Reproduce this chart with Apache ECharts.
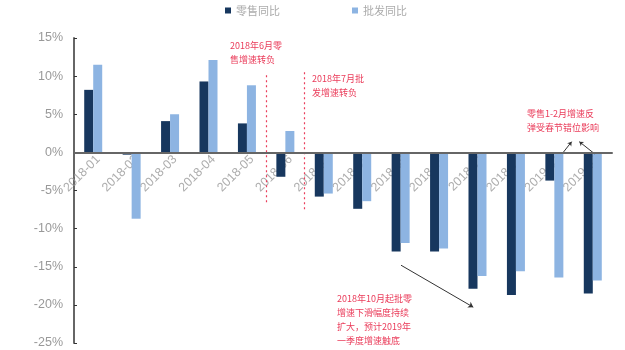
<!DOCTYPE html>
<html><head><meta charset="utf-8">
<script src="https://cdn.jsdelivr.net/npm/echarts@6/dist/echarts.min.js"></script>
<style>html,body{margin:0;padding:0;background:#fff}#c{width:625px;height:350px}</style>
</head><body><div id="c"></div>
<script>
const categories = ['2018-01','2018-02','2018-03','2018-04','2018-05','2018-06','2018-07','2018-08','2018-09','2018-10','2018-11','2018-12','2019-01','2019-02'];
const retailYoY = [8.2,-0.3,4.1,9.3,3.8,-3.2,-5.8,-7.4,-13.0,-13.0,-17.9,-18.7,-3.7,-18.5];
const wholesaleYoY = [11.5,-8.7,5.0,12.1,8.8,2.8,-5.4,-6.4,-11.9,-12.6,-16.2,-15.6,-16.4,-16.8];
const yTicks = {min:-25, max:15, interval:5};
const seriesNames = ['零售同比','批发同比'];

const red = '#ea3c5a';
const cjk = '"Noto Sans CJK SC", sans-serif';
const chart = echarts.init(document.getElementById('c'));
const noteStyle = {fill: red, font: '9px ' + cjk, lineHeight: 14};
chart.setOption({
  animation:false,
  legend:{data:seriesNames, top:0, left:220, itemWidth:6, itemHeight:6, itemGap:72, icon:'rect',
    textStyle:{color:'#aaa', fontSize:11, fontFamily:cjk}},
  grid:{left:74, right:13, top:38, bottom:7, containLabel:false, outerBoundsMode:'none'},
  xAxis:[{type:'category', data:categories, position:'bottom',
    axisLine:{onZero:true, lineStyle:{color:'#666', width:2}},
    axisTick:{show:false},
    axisLabel:{show:false},
    z:10},
   {type:'value', min:0, max:categories.length, show:false, position:'top'}],
  yAxis:{type:'value', min:yTicks.min, max:yTicks.max, interval:yTicks.interval,
    axisLine:{show:true, lineStyle:{color:'#666', width:2}},
    axisTick:{show:true, inside:true, length:3, lineStyle:{color:'#333'}},
    splitLine:{show:false},
    axisLabel:{formatter:'{value}%', color:'#999', fontSize:12.5, margin:11, fontFamily:'Arial, sans-serif'}},
  series:[
    {type:'scatter', xAxisIndex:0, symbolSize:0, silent:true, z:1,
      data:categories.map(c => [c, 0]),
      label:{show:true, formatter:p => p.value[0], position:[5,5], align:'right', verticalAlign:'middle',
        rotate:45, color:'#999', fontSize:12.5, fontFamily:'Arial, sans-serif'}},
    {name:seriesNames[0], type:'bar', z:3, data:retailYoY, barWidth:9, barGap:'0%', itemStyle:{color:'#17375e'}},
    {name:seriesNames[1], type:'bar', z:3, data:wholesaleYoY, barWidth:9, barGap:'0%', itemStyle:{color:'#8db4e2'}},
    {type:'line', xAxisIndex:1, data:[], silent:true,
      markLine:{symbol:['none','none'], silent:true, label:{show:false},
        lineStyle:{color:red, type:[2,3], width:1.2},
        data:[
          [{coord:[5,10.1]},{coord:[5,-6.9]}],
          [{coord:[6,10.5]},{coord:[6,-7.6]}],
          [{coord:[8.51,-14.8], symbol:'none'},{coord:[10.39,-20.3], symbol:'arrow', symbolSize:5, lineStyle:{color:'#333', type:'solid', width:1}}],
          [{coord:[12.7,-0.2], symbol:'none'},{coord:[12.95,1.4], symbol:'arrow', symbolSize:4, lineStyle:{color:'#333', type:'solid', width:1}}],
          [{coord:[13.55,-0.2], symbol:'none'},{coord:[13.15,1.4], symbol:'arrow', symbolSize:4, lineStyle:{color:'#333', type:'solid', width:1}}]
        ]}}
  ],
  graphic:[
    {type:'text', left:230, top:39, style:Object.assign({text:'2018年6月零\n售增速转负', align:'center'}, noteStyle)},
    {type:'text', left:312, top:72, style:Object.assign({text:'2018年7月批\n发增速转负'}, noteStyle)},
    {type:'text', left:527, top:107, style:Object.assign({text:'零售1-2月增速反\n弹受春节错位影响'}, noteStyle)},
    {type:'text', left:337, top:292, style:Object.assign({text:'2018年10月起批零\n增速下滑幅度持续\n扩大，预计2019年\n一季度增速触底', lineHeight:11}, noteStyle)}
  ]
});
</script></body></html>
